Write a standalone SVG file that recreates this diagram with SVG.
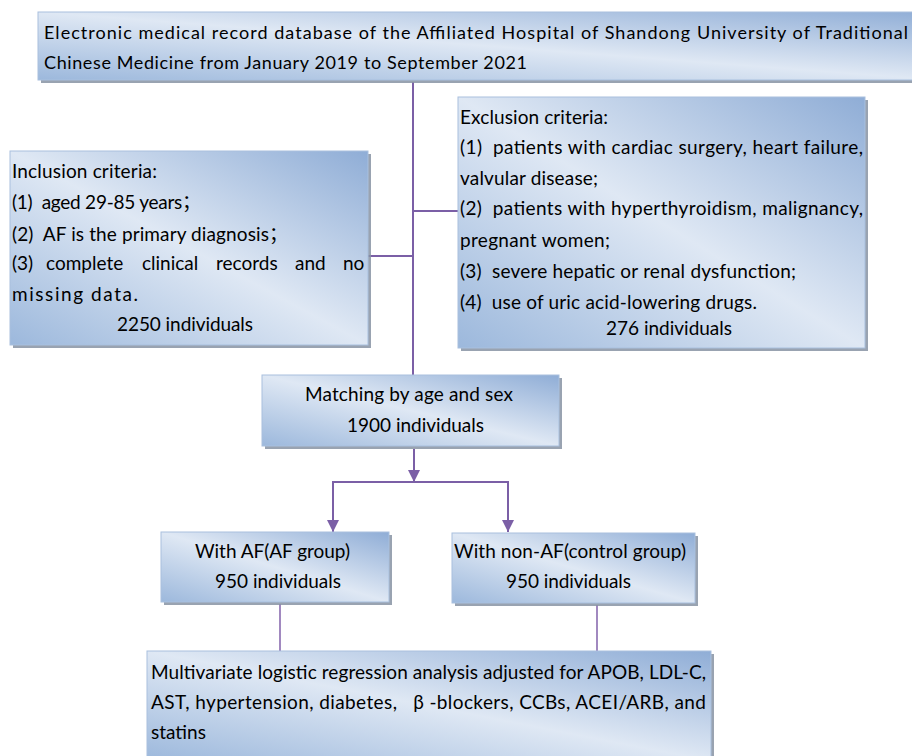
<svg xmlns="http://www.w3.org/2000/svg" width="912" height="756" viewBox="0 0 912 756">
<defs>
<linearGradient id="g" x1="1" y1="0" x2="0" y2="1">
<stop offset="0" stop-color="#8fadd6"/>
<stop offset="0.5" stop-color="#dfe8f4"/>
<stop offset="1" stop-color="#9cb8dc"/>
</linearGradient>
<marker id="ah" markerUnits="userSpaceOnUse" markerWidth="12" markerHeight="12" viewBox="0 0 12 12" refX="12" refY="6" orient="auto">
<path d="M0,0 L12,6 L0,12 z" fill="#7b5fa6"/>
</marker>
</defs>
<style>
.sh{fill:#8793a3;opacity:0.85}
.bx{fill:url(#g);stroke:#a9c0de;stroke-width:1}
text{font-family:Lato,"Noto Sans CJK SC",sans-serif;font-size:19px;fill:#000;white-space:pre}
.t{font-size:18px}
.c{stroke:#7b5fa6;stroke-width:2;fill:none}
.c2{stroke:#8a6bb0;stroke-width:1.6;fill:none}
</style>
<rect width="912" height="756" fill="#fff"/>
<g id="connectors">
<line class="c" x1="413" y1="82" x2="413" y2="376"/>
<line class="c" x1="368" y1="256" x2="413" y2="256"/>
<line class="c" x1="413" y1="211" x2="458" y2="211"/>
<line class="c" x1="414" y1="449" x2="414" y2="482" marker-end="url(#ah)"/>
<line class="c" x1="332" y1="482" x2="509" y2="482"/>
<line class="c" x1="333" y1="481" x2="333" y2="532" marker-end="url(#ah)"/>
<line class="c" x1="508" y1="481" x2="508" y2="532" marker-end="url(#ah)"/>
<line class="c2" x1="280" y1="604" x2="280" y2="652"/>
<line class="c2" x1="597" y1="605" x2="597" y2="652"/>
</g>
<g id="source">
<rect class="sh" x="41" y="15" width="900" height="68"/>
<rect class="bx" x="38" y="12" width="900" height="68"/>
<text class="t" x="44" y="39" textLength="864" lengthAdjust="spacing">Electronic medical record database of the Affiliated Hospital of Shandong University of Traditional</text>
<text class="t" x="44" y="69" textLength="483" lengthAdjust="spacing">Chinese Medicine from January 2019 to September 2021</text>
</g>
<g id="inclusion">
<rect class="sh" x="13" y="154" width="358" height="194"/>
<rect class="bx" x="10" y="151" width="358" height="194"/>
<text x="12" y="178" textLength="145" lengthAdjust="spacing">Inclusion criteria:</text>
<text xml:space="preserve" x="12" y="209" textLength="189" lengthAdjust="spacing">(1)  aged 29-85 years；</text>
<text xml:space="preserve" x="12" y="241" textLength="276" lengthAdjust="spacing">(2)  AF is the primary diagnosis；</text>
<text y="270"><tspan x="12">(3)</tspan><tspan x="46">complete</tspan><tspan x="142">clinical</tspan><tspan x="216">records</tspan><tspan x="295">and</tspan><tspan x="343">no</tspan></text>
<text x="12" y="301" textLength="126" lengthAdjust="spacing">missing data.</text>
<text x="117" y="331" textLength="136" lengthAdjust="spacing">2250 individuals</text>
</g>
<g id="exclusion">
<rect class="sh" x="461" y="100" width="407" height="251"/>
<rect class="bx" x="458" y="97" width="407" height="251"/>
<text x="460" y="124" textLength="148" lengthAdjust="spacing">Exclusion criteria:</text>
<text xml:space="preserve" x="460" y="154" textLength="403" lengthAdjust="spacing">(1)  patients with cardiac surgery, heart failure,</text>
<text x="460" y="185" textLength="138" lengthAdjust="spacing">valvular disease;</text>
<text xml:space="preserve" x="460" y="215" textLength="403" lengthAdjust="spacing">(2)  patients with hyperthyroidism, malignancy,</text>
<text x="460" y="247" textLength="150" lengthAdjust="spacing">pregnant women;</text>
<text xml:space="preserve" x="460" y="278" textLength="336" lengthAdjust="spacing">(3)  severe hepatic or renal dysfunction;</text>
<text xml:space="preserve" x="460" y="309" textLength="297" lengthAdjust="spacing">(4)  use of uric acid-lowering drugs.</text>
<text x="606" y="335" textLength="126" lengthAdjust="spacing">276 individuals</text>
</g>
<g id="matching">
<rect class="sh" x="265" y="378" width="297" height="71"/>
<rect class="bx" x="262" y="375" width="297" height="71"/>
<text x="305" y="401" textLength="208" lengthAdjust="spacing">Matching by age and sex</text>
<text x="347" y="432" textLength="137" lengthAdjust="spacing">1900 individuals</text>
</g>
<g id="af-group">
<rect class="sh" x="164" y="535" width="228" height="70"/>
<rect class="bx" x="161" y="532" width="228" height="70"/>
<text x="195" y="558" textLength="155" lengthAdjust="spacing">With AF(AF group)</text>
<text x="215" y="588" textLength="126" lengthAdjust="spacing">950 individuals</text>
</g>
<g id="control-group">
<rect class="sh" x="455" y="536" width="243" height="70"/>
<rect class="bx" x="452" y="533" width="243" height="70"/>
<text x="454" y="558" textLength="232" lengthAdjust="spacing">With non-AF(control group)</text>
<text x="506" y="588" textLength="125" lengthAdjust="spacing">950 individuals</text>
</g>
<g id="analysis">
<rect class="sh" x="150" y="654" width="564" height="110"/>
<rect class="bx" x="147" y="651" width="564" height="110"/>
<text x="151" y="679" textLength="555" lengthAdjust="spacing">Multivariate logistic regression analysis adjusted for APOB, LDL-C,</text>
<text xml:space="preserve" x="151" y="709" textLength="555" lengthAdjust="spacing">AST, hypertension, diabetes,   β -blockers, CCBs, ACEI/ARB, and</text>
<text x="151" y="739">statins</text>
</g>
</svg>
